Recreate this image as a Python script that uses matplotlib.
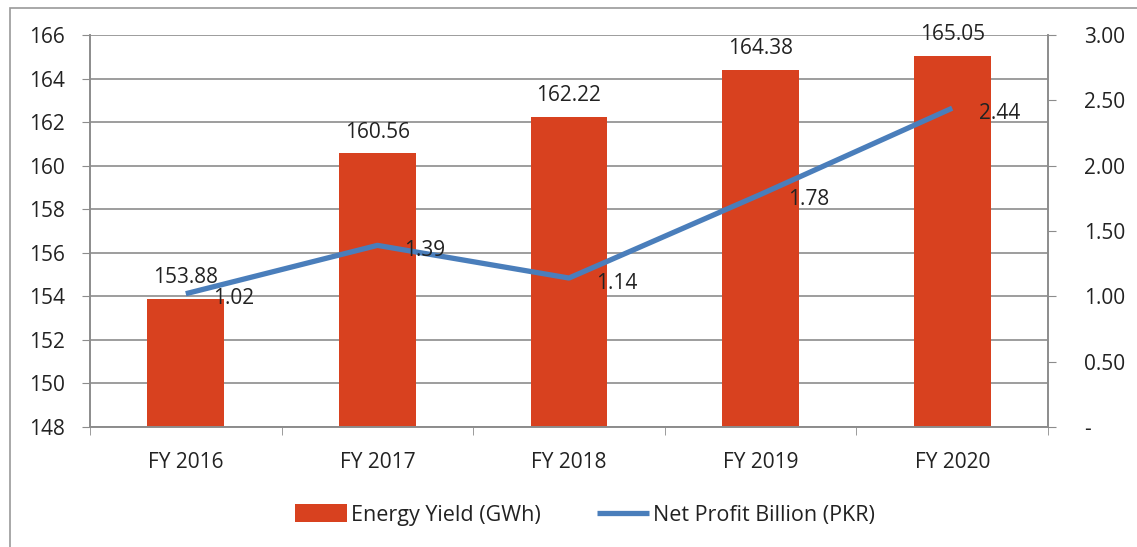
import numpy as np
import matplotlib.pyplot as plt

# data
years = ['FY 2016', 'FY 2017', 'FY 2018', 'FY 2019', 'FY 2020']
energy_yield = [153.88, 160.56, 162.22, 164.38, 165.05]
net_profit = [1.02, 1.39, 1.14, 1.78, 2.44]
right_ticks = [0, 0.5, 1.0, 1.5, 2.0, 2.5, 3.0]
right_labels = ['-', '0.50', '1.00', '1.50', '2.00', '2.50', '3.00']

plt.rcParams['font.family'] = ['Open Sans', 'DejaVu Sans']
bar_color = '#d8411f'
line_color = '#4a7ebb'
grid_color = '#8c8c8c'
text_color = '#222222'

fig = plt.figure(figsize=(11.37, 5.47), dpi=100)
ax = fig.add_axes([90/1137, 1-427/547, 958/1137, 392/547])

x = np.arange(len(years))
ax.bar(x, np.array(energy_yield) - 148, bottom=148, width=0.4, color=bar_color,
       zorder=2, label='Energy Yield (GWh)')
ax.set_xlim(-0.5, len(years) - 0.5)
ax.set_ylim(148, 166)
ax.set_yticks(np.arange(148, 167, 2))
ax.grid(axis='y', color=grid_color, linewidth=1.2, zorder=0)
ax.set_xticks(x)
ax.set_xticklabels(years)
ax.set_xticks(np.arange(-0.5, len(years)), minor=True)
ax.tick_params(axis='x', which='major', length=0, pad=18, labelsize=15, labelcolor=text_color)
ax.tick_params(axis='x', which='minor', length=6, color=grid_color, direction='out')
ax.tick_params(axis='y', length=6, color=grid_color, labelsize=15, pad=12, labelcolor=text_color)
for s in ['left', 'bottom', 'right']:
    ax.spines[s].set_color(grid_color)
    ax.spines[s].set_linewidth(1.2)
ax.spines['top'].set_visible(False)

for xi, v in zip(x, energy_yield):
    ax.text(xi, v + 0.5, f'{v:.2f}', ha='center', va='bottom', fontsize=15,
            color=text_color, zorder=4)

ax2 = ax.twinx()
ax2.plot(x, net_profit, color=line_color, linewidth=3.8, zorder=3,
         label='Net Profit Billion (PKR)', solid_capstyle='butt')
ax2.set_ylim(0, 3)
ax2.set_yticks(right_ticks)
ax2.set_yticklabels(right_labels)
ax2.tick_params(axis='y', length=6, color=grid_color, labelsize=15, pad=20, labelcolor=text_color)
for s in ['left', 'bottom', 'right']:
    ax2.spines[s].set_color(grid_color)
    ax2.spines[s].set_linewidth(1.2)
ax2.spines['top'].set_visible(False)

for xi, v in zip(x, net_profit):
    ax2.annotate(f'{v:.2f}', (xi, v), xytext=(27, -5), textcoords='offset pixels',
                 ha='left', va='center', fontsize=15, color=text_color, zorder=5)

h1, l1 = ax.get_legend_handles_labels()
h2, l2 = ax2.get_legend_handles_labels()
fig.legend(h1 + h2, l1 + l2, loc='center', bbox_to_anchor=(585/1137, 1-515/547),
           ncol=2, frameon=False, fontsize=15.5, handlelength=2.4, handleheight=0.9,
           columnspacing=2.6, handletextpad=0.2, labelcolor=text_color)

# outer frame
fig.patches.append(plt.Rectangle((10/1137, -0.05), 1.2, 1-8/547 + 0.05,
                                 transform=fig.transFigure, fill=False,
                                 edgecolor='#999999', linewidth=1.2))

fig.savefig('out.png', dpi=100)
